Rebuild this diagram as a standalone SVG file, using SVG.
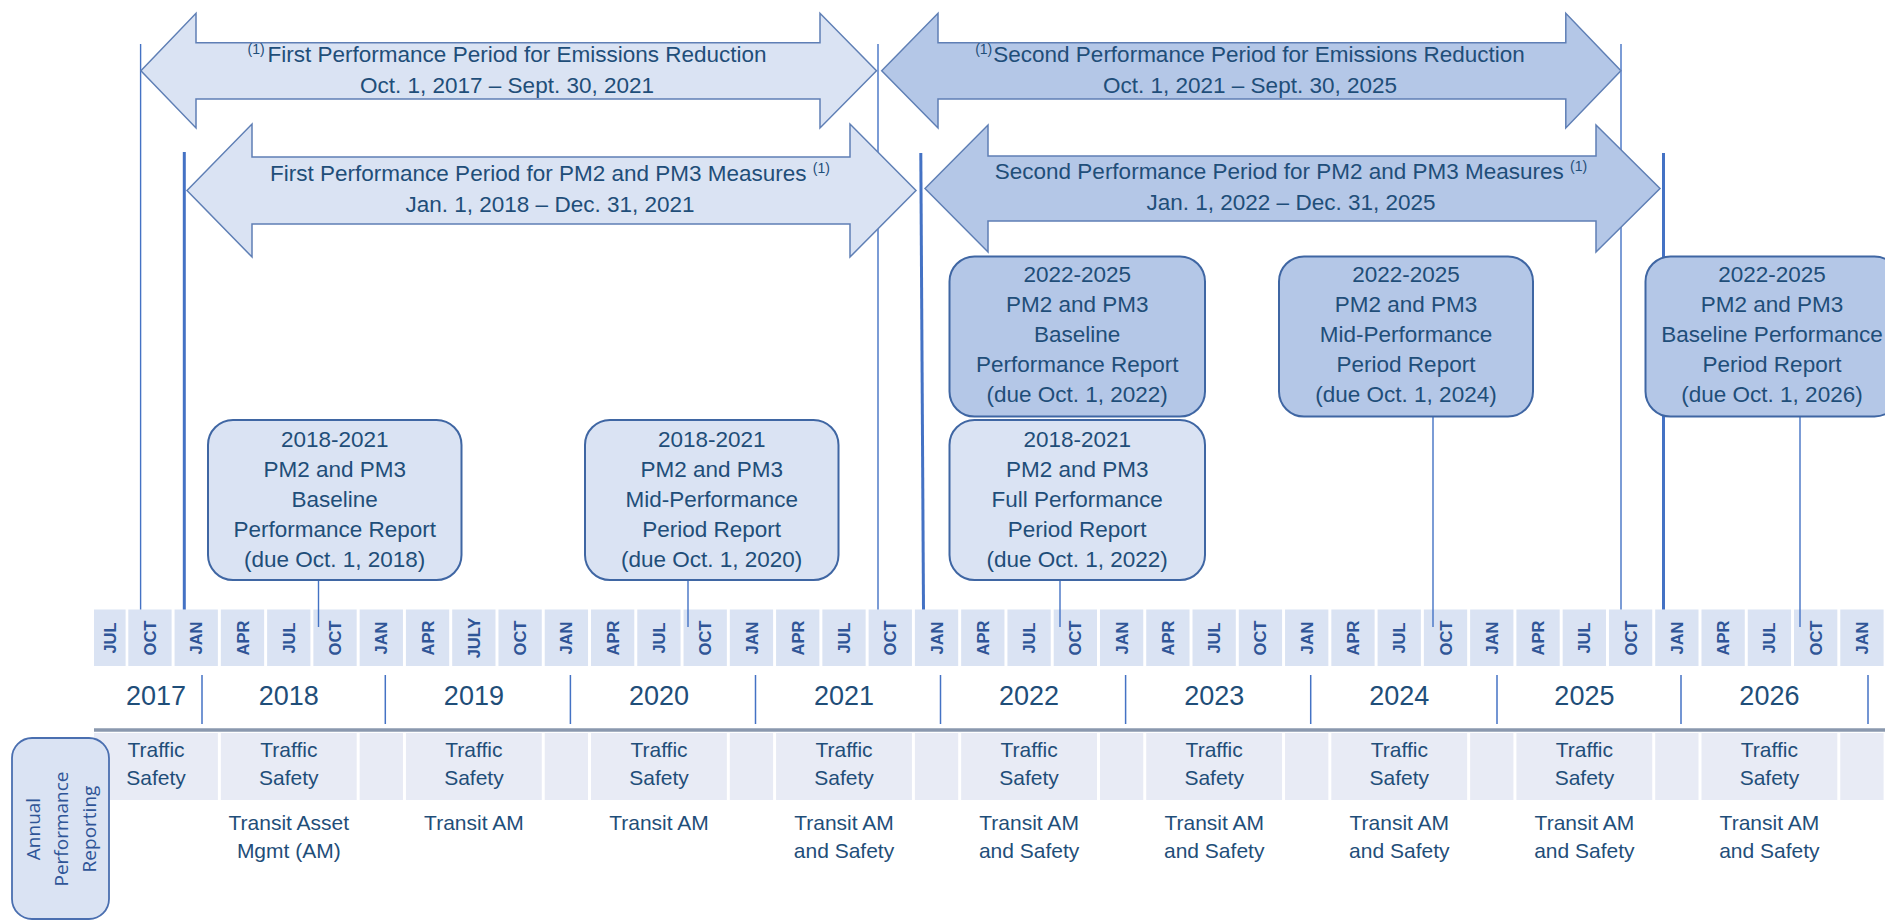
<svg xmlns="http://www.w3.org/2000/svg" width="1885" height="920" viewBox="0 0 1885 920">
<defs>
<style>
.t{font-family:"Liberation Sans",Arial,sans-serif;fill:#1F4E79}
.big{font-size:22.5px;text-anchor:middle}
.sup{font-size:14px}
.mon{font-family:"Liberation Sans",Arial,sans-serif;font-size:16.5px;font-weight:bold;fill:#2F5597;text-anchor:middle}
.yr{font-size:27px;text-anchor:middle}
.rep{font-size:21px;text-anchor:middle}
.cell{fill:#DAE3F3}
.tcell{fill:#E8EBF5}
.arrL{fill:#DAE3F3;stroke:#5F7FB5;stroke-width:1.5}
.arrD{fill:#B4C7E7;stroke:#5F7FB5;stroke-width:1.5}
.boxL{fill:#DAE3F3;stroke:#3F66A3;stroke-width:2}
.boxD{fill:#B4C7E7;stroke:#3F66A3;stroke-width:2}
.thin{stroke:#4472C4;stroke-width:1.4;fill:none}
.thick{stroke:#4472C4;stroke-width:3;fill:none}
.div{stroke:#4472C4;stroke-width:1.5}
</style>
</defs>
<rect width="1885" height="920" fill="#FFFFFF"/>

<!-- month cells -->
<g id="months">
<rect class="cell" x="94" y="609.5" width="31.6" height="56.5"/>
<rect class="cell" x="128.3" y="609.5" width="43.3" height="56.5"/>
<rect class="cell" x="174.57" y="609.5" width="43.3" height="56.5"/>
<rect class="cell" x="220.84" y="609.5" width="43.3" height="56.5"/>
<rect class="cell" x="267.11" y="609.5" width="43.3" height="56.5"/>
<rect class="cell" x="313.38" y="609.5" width="43.3" height="56.5"/>
<rect class="cell" x="359.65" y="609.5" width="43.3" height="56.5"/>
<rect class="cell" x="405.92" y="609.5" width="43.3" height="56.5"/>
<rect class="cell" x="452.19" y="609.5" width="43.3" height="56.5"/>
<rect class="cell" x="498.46" y="609.5" width="43.3" height="56.5"/>
<rect class="cell" x="544.73" y="609.5" width="43.3" height="56.5"/>
<rect class="cell" x="591.0" y="609.5" width="43.3" height="56.5"/>
<rect class="cell" x="637.27" y="609.5" width="43.3" height="56.5"/>
<rect class="cell" x="683.54" y="609.5" width="43.3" height="56.5"/>
<rect class="cell" x="729.81" y="609.5" width="43.3" height="56.5"/>
<rect class="cell" x="776.08" y="609.5" width="43.3" height="56.5"/>
<rect class="cell" x="822.35" y="609.5" width="43.3" height="56.5"/>
<rect class="cell" x="868.62" y="609.5" width="43.3" height="56.5"/>
<rect class="cell" x="914.89" y="609.5" width="43.3" height="56.5"/>
<rect class="cell" x="961.16" y="609.5" width="43.3" height="56.5"/>
<rect class="cell" x="1007.43" y="609.5" width="43.3" height="56.5"/>
<rect class="cell" x="1053.7" y="609.5" width="43.3" height="56.5"/>
<rect class="cell" x="1099.97" y="609.5" width="43.3" height="56.5"/>
<rect class="cell" x="1146.24" y="609.5" width="43.3" height="56.5"/>
<rect class="cell" x="1192.51" y="609.5" width="43.3" height="56.5"/>
<rect class="cell" x="1238.78" y="609.5" width="43.3" height="56.5"/>
<rect class="cell" x="1285.05" y="609.5" width="43.3" height="56.5"/>
<rect class="cell" x="1331.32" y="609.5" width="43.3" height="56.5"/>
<rect class="cell" x="1377.59" y="609.5" width="43.3" height="56.5"/>
<rect class="cell" x="1423.86" y="609.5" width="43.3" height="56.5"/>
<rect class="cell" x="1470.13" y="609.5" width="43.3" height="56.5"/>
<rect class="cell" x="1516.4" y="609.5" width="43.3" height="56.5"/>
<rect class="cell" x="1562.67" y="609.5" width="43.3" height="56.5"/>
<rect class="cell" x="1608.94" y="609.5" width="43.3" height="56.5"/>
<rect class="cell" x="1655.21" y="609.5" width="43.3" height="56.5"/>
<rect class="cell" x="1701.48" y="609.5" width="43.3" height="56.5"/>
<rect class="cell" x="1747.75" y="609.5" width="43.3" height="56.5"/>
<rect class="cell" x="1794.02" y="609.5" width="43.3" height="56.5"/>
<rect class="cell" x="1840.29" y="609.5" width="43.3" height="56.5"/>
<text class="mon" transform="translate(115.8,638) rotate(-90)">JUL</text>
<text class="mon" transform="translate(156,638) rotate(-90)">OCT</text>
<text class="mon" transform="translate(202.2,638) rotate(-90)">JAN</text>
<text class="mon" transform="translate(248.5,638) rotate(-90)">APR</text>
<text class="mon" transform="translate(294.8,638) rotate(-90)">JUL</text>
<text class="mon" transform="translate(341,638) rotate(-90)">OCT</text>
<text class="mon" transform="translate(387.3,638) rotate(-90)">JAN</text>
<text class="mon" transform="translate(433.6,638) rotate(-90)">APR</text>
<text class="mon" transform="translate(479.8,638) rotate(-90)">JULY</text>
<text class="mon" transform="translate(526.1,638) rotate(-90)">OCT</text>
<text class="mon" transform="translate(572.4,638) rotate(-90)">JAN</text>
<text class="mon" transform="translate(618.7,638) rotate(-90)">APR</text>
<text class="mon" transform="translate(664.9,638) rotate(-90)">JUL</text>
<text class="mon" transform="translate(711.2,638) rotate(-90)">OCT</text>
<text class="mon" transform="translate(757.5,638) rotate(-90)">JAN</text>
<text class="mon" transform="translate(803.7,638) rotate(-90)">APR</text>
<text class="mon" transform="translate(850,638) rotate(-90)">JUL</text>
<text class="mon" transform="translate(896.3,638) rotate(-90)">OCT</text>
<text class="mon" transform="translate(942.5,638) rotate(-90)">JAN</text>
<text class="mon" transform="translate(988.8,638) rotate(-90)">APR</text>
<text class="mon" transform="translate(1035.1,638) rotate(-90)">JUL</text>
<text class="mon" transform="translate(1081.4,638) rotate(-90)">OCT</text>
<text class="mon" transform="translate(1127.6,638) rotate(-90)">JAN</text>
<text class="mon" transform="translate(1173.9,638) rotate(-90)">APR</text>
<text class="mon" transform="translate(1220.2,638) rotate(-90)">JUL</text>
<text class="mon" transform="translate(1266.4,638) rotate(-90)">OCT</text>
<text class="mon" transform="translate(1312.7,638) rotate(-90)">JAN</text>
<text class="mon" transform="translate(1359,638) rotate(-90)">APR</text>
<text class="mon" transform="translate(1405.2,638) rotate(-90)">JUL</text>
<text class="mon" transform="translate(1451.5,638) rotate(-90)">OCT</text>
<text class="mon" transform="translate(1497.8,638) rotate(-90)">JAN</text>
<text class="mon" transform="translate(1544.1,638) rotate(-90)">APR</text>
<text class="mon" transform="translate(1590.3,638) rotate(-90)">JUL</text>
<text class="mon" transform="translate(1636.6,638) rotate(-90)">OCT</text>
<text class="mon" transform="translate(1682.9,638) rotate(-90)">JAN</text>
<text class="mon" transform="translate(1729.1,638) rotate(-90)">APR</text>
<text class="mon" transform="translate(1775.4,638) rotate(-90)">JUL</text>
<text class="mon" transform="translate(1821.7,638) rotate(-90)">OCT</text>
<text class="mon" transform="translate(1867.9,638) rotate(-90)">JAN</text>
</g>

<!-- years -->
<g id="years">
<line class="div" x1="202" y1="675" x2="202" y2="724"/>
<line class="div" x1="385.3" y1="675" x2="385.3" y2="724"/>
<line class="div" x1="570.4" y1="675" x2="570.4" y2="724"/>
<line class="div" x1="755.5" y1="675" x2="755.5" y2="724"/>
<line class="div" x1="940.5" y1="675" x2="940.5" y2="724"/>
<line class="div" x1="1125.6" y1="675" x2="1125.6" y2="724"/>
<line class="div" x1="1310.7" y1="675" x2="1310.7" y2="724"/>
<line class="div" x1="1497" y1="675" x2="1497" y2="724"/>
<line class="div" x1="1681" y1="675" x2="1681" y2="724"/>
<line class="div" x1="1868" y1="675" x2="1868" y2="724"/>
<g class="t yr">
<text x="156" y="705">2017</text>
<text x="288.8" y="705">2018</text>
<text x="473.9" y="705">2019</text>
<text x="659" y="705">2020</text>
<text x="844" y="705">2021</text>
<text x="1029.1" y="705">2022</text>
<text x="1214.2" y="705">2023</text>
<text x="1399.3" y="705">2024</text>
<text x="1584.4" y="705">2025</text>
<text x="1769.4" y="705">2026</text>
</g>
<line x1="94" y1="730" x2="1885" y2="730" stroke="#8A98AE" stroke-width="3.5"/>
</g>

<!-- annual reporting row -->
<g id="reporting">
<rect class="tcell" x="94" y="733" width="123.9" height="67"/>
<rect class="tcell" x="220.84" y="733" width="135.84" height="67"/>
<rect class="tcell" x="405.92" y="733" width="135.84" height="67"/>
<rect class="tcell" x="591" y="733" width="135.84" height="67"/>
<rect class="tcell" x="776.08" y="733" width="135.84" height="67"/>
<rect class="tcell" x="961.16" y="733" width="135.84" height="67"/>
<rect class="tcell" x="1146.24" y="733" width="135.84" height="67"/>
<rect class="tcell" x="1331.32" y="733" width="135.84" height="67"/>
<rect class="tcell" x="1516.4" y="733" width="135.84" height="67"/>
<rect class="tcell" x="1701.48" y="733" width="135.84" height="67"/>
<rect class="tcell" x="359.65" y="733" width="43.3" height="67"/>
<rect class="tcell" x="544.73" y="733" width="43.3" height="67"/>
<rect class="tcell" x="729.81" y="733" width="43.3" height="67"/>
<rect class="tcell" x="914.89" y="733" width="43.3" height="67"/>
<rect class="tcell" x="1099.97" y="733" width="43.3" height="67"/>
<rect class="tcell" x="1285.05" y="733" width="43.3" height="67"/>
<rect class="tcell" x="1470.13" y="733" width="43.3" height="67"/>
<rect class="tcell" x="1655.21" y="733" width="43.3" height="67"/>
<rect class="tcell" x="1840.29" y="733" width="43.3" height="67"/>
<g class="t rep">
<text x="156" y="757">Traffic</text><text x="156" y="785">Safety</text>
<text x="288.8" y="757">Traffic</text><text x="288.8" y="785">Safety</text>
<text x="473.9" y="757">Traffic</text><text x="473.9" y="785">Safety</text>
<text x="659" y="757">Traffic</text><text x="659" y="785">Safety</text>
<text x="844" y="757">Traffic</text><text x="844" y="785">Safety</text>
<text x="1029.1" y="757">Traffic</text><text x="1029.1" y="785">Safety</text>
<text x="1214.2" y="757">Traffic</text><text x="1214.2" y="785">Safety</text>
<text x="1399.3" y="757">Traffic</text><text x="1399.3" y="785">Safety</text>
<text x="1584.4" y="757">Traffic</text><text x="1584.4" y="785">Safety</text>
<text x="1769.4" y="757">Traffic</text><text x="1769.4" y="785">Safety</text>
<text x="288.8" y="830">Transit Asset</text><text x="288.8" y="858">Mgmt (AM)</text>
<text x="473.9" y="830">Transit AM</text>
<text x="659" y="830">Transit AM</text>
<text x="844" y="830">Transit AM</text><text x="844" y="858">and Safety</text>
<text x="1029.1" y="830">Transit AM</text><text x="1029.1" y="858">and Safety</text>
<text x="1214.2" y="830">Transit AM</text><text x="1214.2" y="858">and Safety</text>
<text x="1399.3" y="830">Transit AM</text><text x="1399.3" y="858">and Safety</text>
<text x="1584.4" y="830">Transit AM</text><text x="1584.4" y="858">and Safety</text>
<text x="1769.4" y="830">Transit AM</text><text x="1769.4" y="858">and Safety</text>
</g>
</g>

<g id="annual-box">
<rect x="12" y="738" width="97" height="181" rx="20" fill="#DAE3F3" stroke="#4A6FB0" stroke-width="1.8"/>
<g font-family="'Open Sans','Liberation Sans',sans-serif" font-size="19" fill="#2F5597" text-anchor="middle">
<text transform="translate(39.5,829) rotate(-90)">Annual</text>
<text transform="translate(67.5,829) rotate(-90)">Performance</text>
<text transform="translate(95.5,829) rotate(-90)">Reporting</text>
</g>
</g>

<!-- connectors -->
<g id="connectors">
<line class="thin" x1="140.6" y1="44" x2="140.6" y2="609.5"/>
<line class="thick" x1="184.3" y1="152" x2="184.3" y2="609.5"/>
<line class="thin" x1="878" y1="44" x2="878" y2="609.5"/>
<line class="thick" x1="920.8" y1="153" x2="923.5" y2="609.5"/>
<line class="thin" x1="1621" y1="44" x2="1621" y2="609.5"/>
<line class="thick" x1="1663.5" y1="153" x2="1663.5" y2="609.5"/>
<line class="thin" x1="318.5" y1="580" x2="318.5" y2="627"/>
<line class="thin" x1="688" y1="580" x2="688" y2="627"/>
<line class="thin" x1="1060" y1="580" x2="1060" y2="627"/>
<line class="thin" x1="1433" y1="416" x2="1433" y2="627"/>
<line class="thin" x1="1800" y1="416" x2="1800" y2="627"/>
</g>

<!-- arrows -->
<g id="arrow-emissions-1">
<polygon class="arrL" points="140.9,70.7 196,13.3 196,42.7 820,42.7 820,13.3 876.5,70.7 820,128 820,99 196,99 196,128"/>
<text class="t big" x="507" y="62"><tspan class="sup" dy="-8">(1)</tspan><tspan dy="8" dx="3">First Performance Period for Emissions Reduction</tspan></text>
<text class="t big" x="507" y="93">Oct. 1, 2017 – Sept. 30, 2021</text>
</g>
<g id="arrow-pm-1">
<polygon class="arrL" points="187,190.5 252,124 252,157 850,157 850,124 916,190.5 850,257 850,224 252,224 252,257"/>
<text class="t big" x="550" y="181">First Performance Period for PM2 and PM3 Measures <tspan class="sup" dy="-8">(1)</tspan></text>
<text class="t big" x="550" y="212">Jan. 1, 2018 – Dec. 31, 2021</text>
</g>
<g id="arrow-emissions-2">
<polygon class="arrD" points="881.7,70.7 938,13.3 938,42.7 1565.8,42.7 1565.8,13.3 1620.9,70.7 1565.8,128 1565.8,99 938,99 938,128"/>
<text class="t big" x="1250" y="62"><tspan class="sup" dy="-8">(1)</tspan><tspan dy="8" dx="1">Second Performance Period for Emissions Reduction</tspan></text>
<text class="t big" x="1250" y="93">Oct. 1, 2021 – Sept. 30, 2025</text>
</g>
<g id="arrow-pm-2">
<polygon class="arrD" points="925,188.5 988,125 988,156 1596,156 1596,125 1660,188.5 1596,252 1596,221 988,221 988,252"/>
<text class="t big" x="1291" y="179">Second Performance Period for PM2 and PM3 Measures <tspan class="sup" dy="-8">(1)</tspan></text>
<text class="t big" x="1291" y="210">Jan. 1, 2022 – Dec. 31, 2025</text>
</g>

<!-- report boxes -->
<g id="box-2018-baseline">
<rect class="boxL" x="208" y="420" width="253.5" height="160" rx="25"/>
<g class="t big">
<text x="334.7" y="447">2018-2021</text>
<text x="334.7" y="477">PM2 and PM3</text>
<text x="334.7" y="507">Baseline</text>
<text x="334.7" y="537">Performance Report</text>
<text x="334.7" y="567">(due Oct. 1, 2018)</text>
</g>
</g>
<g id="box-2018-mid">
<rect class="boxL" x="585" y="420" width="253.5" height="160" rx="25"/>
<g class="t big">
<text x="711.7" y="447">2018-2021</text>
<text x="711.7" y="477">PM2 and PM3</text>
<text x="711.7" y="507">Mid-Performance</text>
<text x="711.7" y="537">Period Report</text>
<text x="711.7" y="567">(due Oct. 1, 2020)</text>
</g>
</g>
<g id="box-2022-baseline">
<rect class="boxD" x="949.5" y="256.5" width="255.5" height="160" rx="25"/>
<g class="t big">
<text x="1077.2" y="282">2022-2025</text>
<text x="1077.2" y="312">PM2 and PM3</text>
<text x="1077.2" y="342">Baseline</text>
<text x="1077.2" y="372">Performance Report</text>
<text x="1077.2" y="402">(due Oct. 1, 2022)</text>
</g>
</g>
<g id="box-2018-full">
<rect class="boxL" x="949.5" y="420" width="255.5" height="160" rx="25"/>
<g class="t big">
<text x="1077.2" y="447">2018-2021</text>
<text x="1077.2" y="477">PM2 and PM3</text>
<text x="1077.2" y="507">Full Performance</text>
<text x="1077.2" y="537">Period Report</text>
<text x="1077.2" y="567">(due Oct. 1, 2022)</text>
</g>
</g>
<g id="box-2022-mid">
<rect class="boxD" x="1279" y="256.5" width="254" height="160" rx="25"/>
<g class="t big">
<text x="1406" y="282">2022-2025</text>
<text x="1406" y="312">PM2 and PM3</text>
<text x="1406" y="342">Mid-Performance</text>
<text x="1406" y="372">Period Report</text>
<text x="1406" y="402">(due Oct. 1, 2024)</text>
</g>
</g>
<g id="box-2022-full">
<rect class="boxD" x="1645.5" y="256.5" width="254" height="160" rx="25"/>
<g class="t big">
<text x="1772" y="282">2022-2025</text>
<text x="1772" y="312">PM2 and PM3</text>
<text x="1772" y="342">Baseline Performance</text>
<text x="1772" y="372">Period Report</text>
<text x="1772" y="402">(due Oct. 1, 2026)</text>
</g>
</g>
</svg>
